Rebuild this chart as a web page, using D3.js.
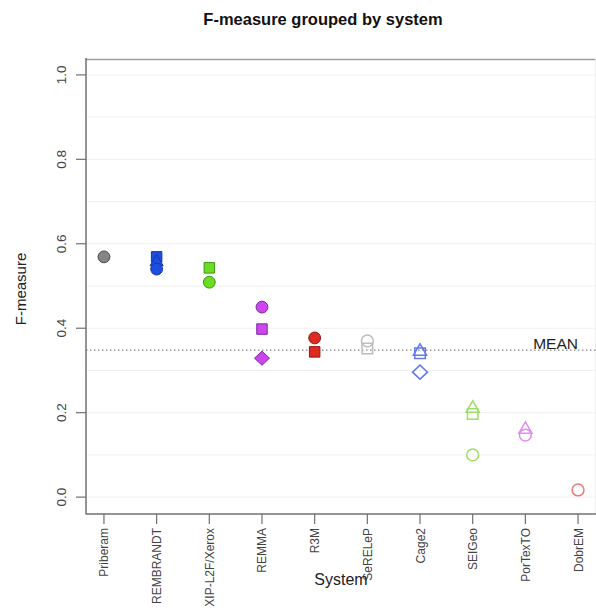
<!DOCTYPE html>
<html><head><meta charset="utf-8">
<script src="https://cdn.jsdelivr.net/npm/d3@7"></script>
<style>body{margin:0;background:#fff}svg{display:block;font-family:"Liberation Sans",Arial,sans-serif}</style>
</head><body><svg id="c" width="596" height="608"></svg>
<script>
const systems = ["Priberam","REMBRANDT","XIP-L2F/Xerox","REMMA","R3M","SeRELeP","Cage2","SEIGeo","PorTexTO","DobrEM"];
const circleValues   = [0.569,0.540,0.509,0.450,0.377,0.370,null,0.100,0.147,0.017];
const squareValues   = [null,0.569,0.543,0.398,0.344,0.352,0.341,0.197,null,null];
const triangleValues = [null,0.557,null,null,null,null,0.345,0.210,0.160,null];
const diamondValues  = [null,null,null,0.329,null,null,0.296,null,null,null];
const filledSystem   = [true,true,true,true,true,false,false,false,false,false];
const fillColors     = ["#858585","#1c4ee0","#6bdc22","#cc45ee","#dd2a22","#bdbdbd","#6478ec","#9ede66","#e08ef0","#ec7a7a"];
const strokeColors   = ["#4a4a4a","#1a34a8","#3a9a10","#7c2a9c","#8e1a14","#bdbdbd","#6478ec","#9ede66","#e08ef0","#ec7a7a"];
const meanValue = 0.348;
const yTicks = [0,0.2,0.4,0.6,0.8,1.0];
const gridTicks = [0,0.1,0.2,0.3,0.4,0.5,0.6,0.7,0.8,0.9,1.0];

const svg = d3.select("#c");
const x = d3.scaleLinear().domain([0.64,10.36]).range([85,597]);
const y = d3.scaleLinear().domain([-0.04,1.04]).range([514,58]);

// grid
svg.append("g").selectAll("line").data(gridTicks).join("line")
  .attr("x1",86).attr("x2",597).attr("y1",d=>y(d)).attr("y2",d=>y(d))
  .attr("stroke","#f0f0f0").attr("stroke-width",1);

const axCol = "#707070";
svg.append("line").attr("x1",86).attr("x2",597).attr("y1",y(1.04)+1.5).attr("y2",y(1.04)+1.5).attr("stroke","#a0a0a0").attr("stroke-width",1.5);
svg.append("line").attr("x1",595.5).attr("x2",595.5).attr("y1",y(1.04)).attr("y2",y(-0.04)).attr("stroke","#eeeeee").attr("stroke-width",1);

// mean line
svg.append("line").attr("x1",86).attr("x2",597).attr("y1",y(meanValue)).attr("y2",y(meanValue))
  .attr("stroke","#888").attr("stroke-width",1.2).attr("stroke-dasharray","1.5,2.5");
svg.append("text").attr("x",578).attr("y",y(meanValue)-1).attr("text-anchor","end")
  .attr("font-size",15.5).attr("fill","#222").text("MEAN");

// y axis
const ya = svg.append("g").attr("transform","translate(86,0)");
ya.append("line").attr("x1",0).attr("x2",0).attr("y1",y(1.04)).attr("y2",y(-0.04)+0.5).attr("stroke",axCol).attr("stroke-width",1.5);
ya.selectAll(".t").data(yTicks).join("line").attr("x1",-10).attr("x2",0).attr("y1",d=>y(d)).attr("y2",d=>y(d)).attr("stroke",axCol).attr("stroke-width",1.2);
ya.selectAll("text").data(yTicks).join("text")
  .attr("transform",d=>`translate(-20,${y(d)}) rotate(-90)`).attr("text-anchor","middle")
  .attr("font-size",13.5).attr("fill","#444").text(d=>d.toFixed(1));

// x axis
const xa = svg.append("g").attr("transform",`translate(0,${y(-0.04)})`);
xa.append("line").attr("x1",86).attr("x2",597).attr("y1",0).attr("y2",0).attr("stroke",axCol).attr("stroke-width",1.5);
xa.selectAll(".t").data(systems).join("line").attr("x1",(d,i)=>x(i+1)).attr("x2",(d,i)=>x(i+1)).attr("y1",0).attr("y2",10).attr("stroke",axCol).attr("stroke-width",1.2);
xa.selectAll("text").data(systems).join("text")
  .attr("transform",(d,i)=>`translate(${x(i+1)+4.5},14) rotate(-90)`).attr("text-anchor","end")
  .attr("font-size",12).attr("fill","#444").text(d=>d);

// titles
svg.append("text").attr("x",323).attr("y",25).attr("text-anchor","middle").attr("font-weight","bold").attr("font-size",16.5).attr("fill","#111").text("F-measure grouped by system");
svg.append("text").attr("x",341).attr("y",585).attr("text-anchor","middle").attr("font-size",16).attr("fill","#222").text("System");
svg.append("text").attr("transform",`translate(26,${y(0.5)+3}) rotate(-90)`).attr("text-anchor","middle").attr("font-size",15).attr("fill","#222").text("F-measure");

// points
const diamondPath = d3.path(); diamondPath.moveTo(0,-7); diamondPath.lineTo(7.5,0); diamondPath.lineTo(0,7); diamondPath.lineTo(-7.5,0); diamondPath.closePath();
const sym = {
  square: d3.symbol().type(d3.symbolSquare).size(110)(),
  triangle: d3.symbol().type(d3.symbolTriangle).size(75)(),
  circle: d3.symbol().type(d3.symbolCircle).size(110)(),
  diamond: diamondPath.toString()
};
const series = [["square",squareValues],["triangle",triangleValues],["circle",circleValues],["diamond",diamondValues]];
const pg = svg.append("g");
series.forEach(([shape,vals])=>{
  const pts = vals.map((v,i)=>({v,i})).filter(d=>d.v!==null);
  pg.selectAll(null).data(pts).join("path")
    .attr("d",sym[shape])
    .attr("transform",d=>`translate(${x(d.i+1)},${y(d.v)})`)
    .attr("fill",d=>filledSystem[d.i]?fillColors[d.i]:"none")
    .attr("stroke",d=>strokeColors[d.i])
    .attr("stroke-width",d=>filledSystem[d.i]?1:1.5);
});
</script></body></html>
